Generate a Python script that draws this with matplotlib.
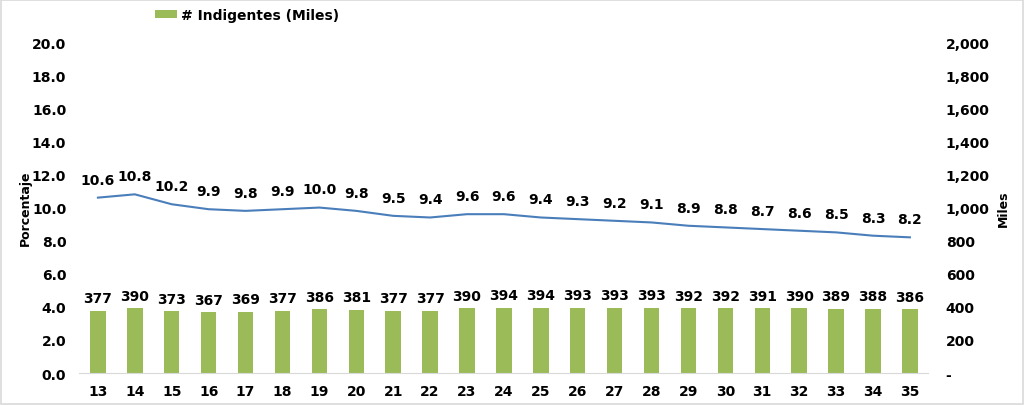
import matplotlib
matplotlib.use("Agg")
import matplotlib.pyplot as plt
from matplotlib.ticker import FuncFormatter

categories = ["13","14","15","16","17","18","19","20","21","22","23","24","25","26","27","28","29","30","31","32","33","34","35"]
porcentaje = [10.6,10.8,10.2,9.9,9.8,9.9,10.0,9.8,9.5,9.4,9.6,9.6,9.4,9.3,9.2,9.1,8.9,8.8,8.7,8.6,8.5,8.3,8.2]
indigentes = [377,390,373,367,369,377,386,381,377,377,390,394,394,393,393,393,392,392,391,390,389,388,386]

plt.rcParams['font.family'] = ['DejaVu Sans']
plt.rcParams['font.weight'] = 'bold'

fig = plt.figure(figsize=(10.24, 4.06), dpi=100)
fig.patches.append(plt.Rectangle((0.001, 0.002), 0.998, 0.996, transform=fig.transFigure,
                                 fill=False, edgecolor='#d9d9d9', linewidth=1.2))
ax = fig.add_axes([0.0776, 0.0788, 0.829, 0.815])
ax2 = ax.twinx()

x = list(range(len(categories)))
bars = ax2.bar(x, indigentes, width=0.42, color='#9BBB59', label='# Indigentes (Miles)', zorder=2)
ax.plot(x, porcentaje, color='#4A7EBB', linewidth=1.5, zorder=3)

ax.set_zorder(ax2.get_zorder() + 1)
ax.patch.set_visible(False)

ax.set_xlim(-0.5, len(categories) - 0.5)
ax.set_ylim(0, 20)
ax2.set_ylim(0, 2000)
ax.set_yticks([0, 2, 4, 6, 8, 10, 12, 14, 16, 18, 20])
ax.yaxis.set_major_formatter(FuncFormatter(lambda v, p: f"{v:.1f}"))
ax2.set_yticks(range(0, 2001, 200))
ax2.yaxis.set_major_formatter(FuncFormatter(lambda v, p: "-" if v == 0 else f"{int(v):,}"))
ax.set_xticks(x)
ax.set_xticklabels(categories)

for a in (ax, ax2):
    for s in a.spines.values():
        s.set_visible(False)
    a.tick_params(length=0, labelsize=10)
ax.spines['bottom'].set_visible(True)
ax.spines['bottom'].set_color('#d9d9d9')
ax.tick_params(axis='y', pad=9.5)
ax.tick_params(axis='x', pad=8)
ax2.tick_params(axis='y', pad=12.5)
for lbl in ax.get_xticklabels() + ax.get_yticklabels() + ax2.get_yticklabels():
    lbl.set_fontweight('bold')

ax.set_ylabel("Porcentaje", fontsize=9, fontweight='bold', labelpad=0)
ax2.set_ylabel("Miles", fontsize=9, fontweight='bold', labelpad=5)

for xi, v in zip(x, porcentaje):
    ax.annotate(f"{v:.1f}", (xi, v), xytext=(0, 8), textcoords='offset points',
                ha='center', va='bottom', fontsize=10, fontweight='bold')
for xi, v in zip(x, indigentes):
    ax2.annotate(f"{v}", (xi, v), xytext=(0, 4), textcoords='offset points',
                 ha='center', va='bottom', fontsize=10, fontweight='bold')

fig.legend(handles=[bars], labels=['# Indigentes (Miles)'], loc='center left',
           bbox_to_anchor=(0.139, 0.96), frameon=False, fontsize=10,
           handlelength=1.6, handleheight=0.5, handletextpad=0.3,
           prop={'weight': 'bold', 'size': 10})

fig.savefig("out.png", dpi=100)
